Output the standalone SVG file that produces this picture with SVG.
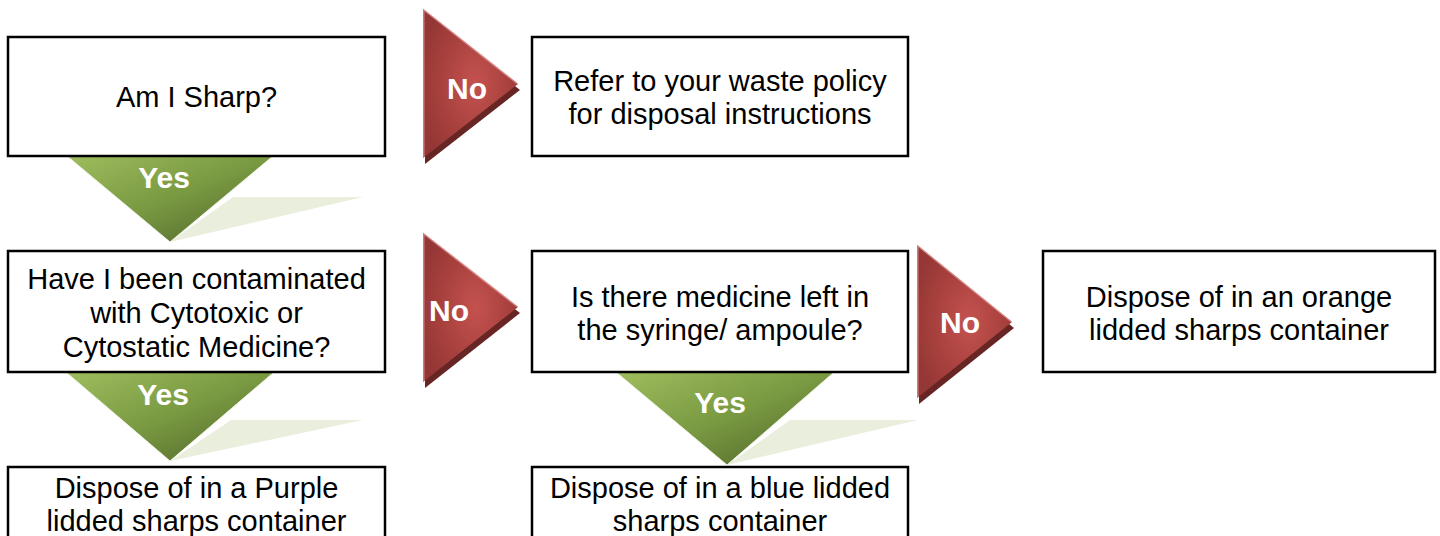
<svg xmlns="http://www.w3.org/2000/svg" width="1440" height="536" viewBox="0 0 1440 536">
<defs>
<linearGradient id="gGreen" x1="0" y1="0" x2="1" y2="1">
<stop offset="0" stop-color="#A2C060"/>
<stop offset="0.5" stop-color="#7A9A42"/>
<stop offset="1" stop-color="#4B6027"/>
</linearGradient>
<radialGradient id="gRed" cx="0.55" cy="0.5" r="0.6">
<stop offset="0" stop-color="#C4524F"/>
<stop offset="0.6" stop-color="#A8413E"/>
<stop offset="1" stop-color="#953735"/>
</radialGradient>
<style>
.box{fill:#fff;stroke:#000;stroke-width:2.5}
.t{font-family:"Liberation Sans",Arial,sans-serif;font-size:29px;fill:#000;text-anchor:middle}
.lbl{font-family:"Liberation Sans",Arial,sans-serif;font-size:30px;font-weight:bold;fill:#fff;text-anchor:middle}
.yes{fill:url(#gGreen);stroke:#EEF2E6;stroke-width:1}
.yshadow{fill:#EAEFDD}
.no{fill:url(#gRed)}
.nshadow{fill:#672624}
.nhi{fill:none;stroke:#D9908E;stroke-width:1.5;opacity:0.8}
</style>
</defs>
<g id="connectors">
<g id="yes1">
<polygon class="yshadow" points="170,242 233,197 363,197"/>
<polygon class="yes" points="61,151 279,151 170,242"/>
<text class="lbl" x="164" y="188">Yes</text>
</g>
<g id="yes2">
<polygon class="yshadow" points="170,461 231,420 363,420"/>
<polygon class="yes" points="60,367 280,367 170,461"/>
<text class="lbl" x="163" y="405">Yes</text>
</g>
<g id="yes3">
<polygon class="yshadow" points="727,465 790,420 918,420"/>
<polygon class="yes" points="610,367 840,367 727,465"/>
<text class="lbl" x="720" y="413">Yes</text>
</g>
<g id="no1">
<polygon class="nshadow" points="425,15 520,90 425,164"/>
<polygon class="no" points="423,9 518,84 423,158"/>
<polyline class="nhi" points="423.8,157 423.8,10 517,83.5"/>
<text class="lbl" x="467" y="99">No</text>
</g>
<g id="no2">
<polygon class="nshadow" points="425,239 520,313 425,388"/>
<polygon class="no" points="423,233 518,307 423,382"/>
<polyline class="nhi" points="423.8,381 423.8,234 517,306.5"/>
<text class="lbl" x="449" y="321">No</text>
</g>
<g id="no3">
<polygon class="nshadow" points="919,251 1014,328 919,404"/>
<polygon class="no" points="917,245 1012,322 917,398"/>
<polyline class="nhi" points="917.8,397 917.8,246 1011,321.5"/>
<text class="lbl" x="960" y="333">No</text>
</g>
</g>
<g id="n1">
<rect class="box" x="8" y="37" width="377" height="119"/>
<text class="t" x="196.5" y="107">Am I Sharp?</text>
</g>
<g id="n2">
<rect class="box" x="532" y="37" width="376" height="119"/>
<text class="t" x="720" y="91">Refer to your waste policy</text>
<text class="t" x="720" y="124">for disposal instructions</text>
</g>
<g id="n3">
<rect class="box" x="8" y="251" width="377" height="121"/>
<text class="t" x="196.5" y="289">Have I been contaminated</text>
<text class="t" x="196.5" y="323">with Cytotoxic or</text>
<text class="t" x="196.5" y="357">Cytostatic Medicine?</text>
</g>
<g id="n4">
<rect class="box" x="532" y="251" width="376" height="121"/>
<text class="t" x="720" y="307">Is there medicine left in</text>
<text class="t" x="720" y="340">the syringe/ ampoule?</text>
</g>
<g id="n5">
<rect class="box" x="1043" y="251" width="392" height="121"/>
<text class="t" x="1239" y="307">Dispose of in an orange</text>
<text class="t" x="1239" y="340">lidded sharps container</text>
</g>
<g id="n6">
<rect class="box" x="8" y="467" width="377" height="100"/>
<text class="t" x="196.5" y="498">Dispose of in a Purple</text>
<text class="t" x="196.5" y="531">lidded sharps container</text>
</g>
<g id="n7">
<rect class="box" x="532" y="467" width="376" height="100"/>
<text class="t" x="720" y="498">Dispose of in a blue lidded</text>
<text class="t" x="720" y="531">sharps container</text>
</g>
</svg>
